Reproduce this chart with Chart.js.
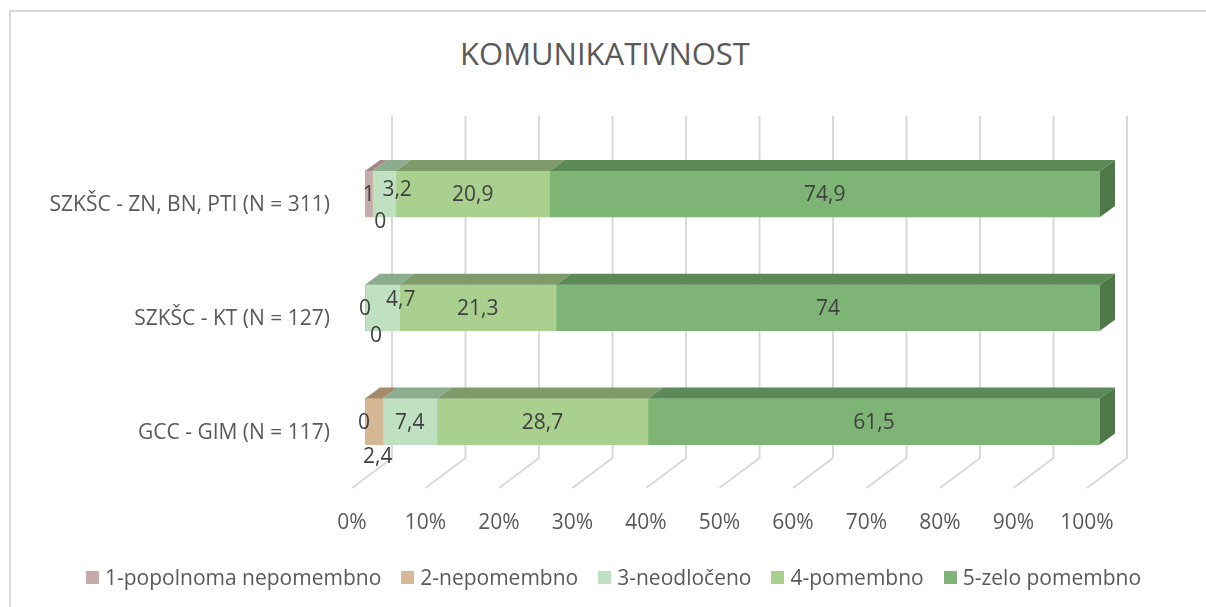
<!DOCTYPE html>
<html>
<head>
<meta charset="utf-8">
<script src="https://cdn.jsdelivr.net/npm/chart.js@4/dist/chart.umd.min.js"></script>
<style>
    html, body { margin: 0; padding: 0; background: #fff; }
    #wrap { position: relative; width: 1206px; height: 607px; overflow: hidden; font-family: 'Open Sans', sans-serif; color: #595959; }
    #frame { position: absolute; left: 9px; top: 10px; width: 1400px; height: 800px; border-left: 2px solid #D9D9D9; border-top: 2px solid #D9D9D9; }
    #chartTitle { position: absolute; left: 0; top: 33px; width: 1210px; text-align: center; font-size: 31px; line-height: 40px; }
    #chartLegend { position: absolute; left: 0; top: 565px; width: 1227px; display: flex; justify-content: center; font-size: 21px; line-height: 25px; white-space: nowrap; }
    #chartLegend .item { display: flex; align-items: center; margin: 0 10px; }
    #chartLegend .box { display: inline-block; width: 13px; height: 13px; margin-right: 6px; }
    canvas { position: absolute; left: 0; top: 0; }
</style>
</head>
<body>
<div id="wrap">
    <div id="frame"></div>
    <div id="chartTitle">KOMUNIKATIVNOST</div>
    <canvas id="komChart" width="1206" height="607"></canvas>
    <div id="chartLegend"></div>
</div>
<script>
// data (percent)
const categories = ['SZKŠC - ZN, BN, PTI (N = 311)', 'SZKŠC - KT (N = 127)', 'GCC - GIM (N = 117)'];
const seriesNames = ['1-popolnoma nepomembno', '2-nepomembno', '3-neodločeno', '4-pomembno', '5-zelo pomembno'];
const popolnomaNepomembno = [1, 0, 0];
const nepomembno = [0, 0, 2.4];
const neodloceno = [3.2, 4.7, 7.4];
const pomembno = [20.9, 21.3, 28.7];
const zeloPomembno = [74.9, 74, 61.5];
const xTicks = [0, 10, 20, 30, 40, 50, 60, 70, 80, 90, 100];

const seriesValues = [popolnomaNepomembno, nepomembno, neodloceno, pomembno, zeloPomembno];
const frontColors = ['#C7ABAB', '#D5B894', '#BFE1C2', '#A9D08E', '#7EB476'];
const topColors = ['#A58787', '#A68B6B', '#8BAC8D', '#7E9B69', '#5C8A57'];
const sideColor = '#4F7848';

// Excel moved some crowded labels, nudge them the same way [dataset][category]
const labelNudge = [
    [[0, 1], [0, 1], [-1, 1.5]],
    [[8, 28], [11, 28.5], [4, 35.5]],
    [[13, -4], [18.5, -7.5], [0, 1.5]],
    [[0, 1], [0, 1.5], [0, 1.5]],
    [[0, 1], [0, 1.5], [0, 1.5]]
];

// 3D look: bar depth and back wall / floor
const barDepth = { dx: 15, dy: 11 };
const wall = { dx: 27, up: 21, floorY: 20.5, floorDx: 40, floorDy: 30 };

const fmt = v => String(v).replace('.', ',');

const threeD = {
    id: 'threeD',
    beforeDatasetsDraw(chart) {
        const ctx = chart.ctx, area = chart.chartArea, xs = chart.scales.x;
        ctx.save();
        ctx.strokeStyle = '#D9D9D9';
        ctx.lineWidth = 2;
        xs.ticks.forEach(t => {
            const px = xs.getPixelForValue(t.value) + wall.dx;
            const bend = area.bottom - wall.floorY;
            ctx.beginPath();
            ctx.moveTo(px, area.top - wall.up);
            ctx.lineTo(px, bend);
            ctx.lineTo(px - wall.floorDx, bend + wall.floorDy);
            ctx.stroke();
        });
        ctx.restore();
    },
    afterDatasetsDraw(chart) {
        const ctx = chart.ctx;
        ctx.save();
        const last = chart.data.datasets.length - 1;
        chart.data.datasets.forEach((ds, i) => {
            const meta = chart.getDatasetMeta(i);
            meta.data.forEach(el => {
                const p = el.getProps(['x', 'y', 'base', 'height'], true);
                const top = p.y - p.height / 2, bottom = p.y + p.height / 2;
                ctx.fillStyle = topColors[i];
                ctx.beginPath();
                ctx.moveTo(p.base, top);
                ctx.lineTo(p.x, top);
                ctx.lineTo(p.x + barDepth.dx, top - barDepth.dy);
                ctx.lineTo(p.base + barDepth.dx, top - barDepth.dy);
                ctx.closePath();
                ctx.fill();
                if (i === last) {
                    ctx.fillStyle = sideColor;
                    ctx.beginPath();
                    ctx.moveTo(p.x, top);
                    ctx.lineTo(p.x + barDepth.dx, top - barDepth.dy);
                    ctx.lineTo(p.x + barDepth.dx, bottom - barDepth.dy);
                    ctx.lineTo(p.x, bottom);
                    ctx.closePath();
                    ctx.fill();
                }
            });
        });
        // data labels
        ctx.fillStyle = '#404040';
        ctx.font = "21px 'Open Sans', sans-serif";
        ctx.textAlign = 'center';
        ctx.textBaseline = 'middle';
        chart.data.datasets.forEach((ds, i) => {
            chart.getDatasetMeta(i).data.forEach((el, j) => {
                const p = el.getProps(['x', 'y', 'base'], true);
                const n = labelNudge[i][j];
                ctx.fillText(fmt(ds.data[j]), (p.x + p.base) / 2 + n[0], p.y + n[1]);
            });
        });
        ctx.restore();
    }
};

Chart.defaults.font.family = "'Open Sans', sans-serif";
Chart.defaults.color = '#595959';

const chart = new Chart(document.getElementById('komChart').getContext('2d'), {
    type: 'bar',
    data: {
        labels: categories,
        datasets: seriesNames.map((name, i) => ({
            label: name,
            data: seriesValues[i],
            backgroundColor: frontColors[i],
            barThickness: 46
        }))
    },
    options: {
        indexAxis: 'y',
        responsive: false,
        animation: false,
        layout: { padding: { left: 10, right: 106, top: 137, bottom: 68.5 } },
        plugins: {
            legend: { display: false },
            tooltip: { enabled: false }
        },
        scales: {
            x: {
                stacked: true,
                min: 0,
                max: 100,
                afterBuildTicks: s => { s.ticks = xTicks.map(v => ({ value: v })); },
                afterFit: s => { s.height = 60; },
                grid: { display: false, drawTicks: false },
                border: { display: false },
                ticks: {
                    font: { size: 21 },
                    padding: 31.5,
                    labelOffset: -13,
                    maxRotation: 0,
                    autoSkip: false,
                    callback: v => v + '%'
                }
            },
            y: {
                stacked: true,
                afterFit: s => { s.width = 355; },
                grid: { display: false, drawTicks: false },
                border: { display: false },
                ticks: { font: { size: 21 }, padding: 35, labelOffset: 11 }
            }
        }
    },
    plugins: [threeD]
});

// legend like the Excel one
const legendEl = document.getElementById('chartLegend');
seriesNames.forEach((name, i) => {
    legendEl.innerHTML += `<span class="item"><span class="box" style="background:${frontColors[i]}"></span>${name}</span>`;
});
</script>
</body>
</html>
